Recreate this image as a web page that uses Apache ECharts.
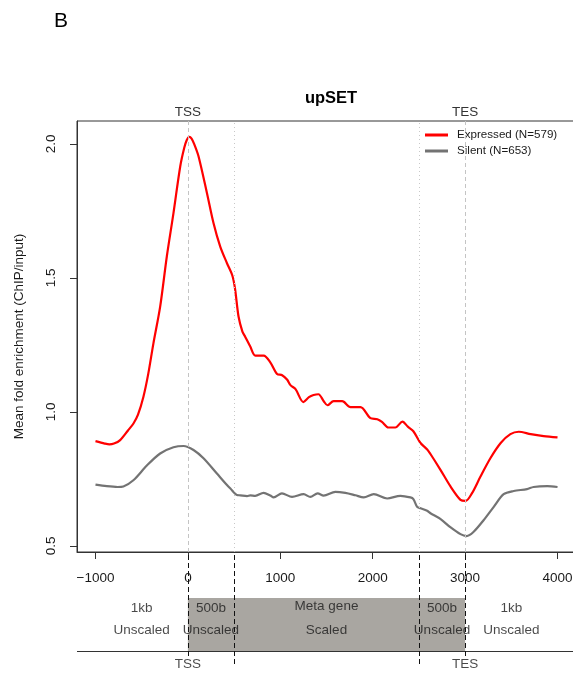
<!DOCTYPE html>
<html>
<head>
<meta charset="utf-8">
<script src="https://cdn.jsdelivr.net/npm/echarts@6/dist/echarts.min.js"></script>
<style>
  html, body { margin: 0; padding: 0; background: #fff; }
  #chart { width: 573px; height: 677px; }
</style>
</head>
<body>
<div id="chart"></div>
<script>
// Metagene profile of upSET enrichment: position relative to TSS (bp) vs mean fold enrichment
const expressedPos = [-1000, -900, -850, -800, -733, -650, -589, -540, -481, -430, -373, -300, -228, -156, -83, -40, -12, 14, 40, 70, 115, 206, 277, 350, 423, 480, 510, 548, 590, 621, 675, 730, 820, 890, 965, 1020, 1075, 1110, 1165, 1250, 1310, 1360, 1413, 1470, 1510, 1577, 1670, 1760, 1868, 1975, 2050, 2100, 2170, 2245, 2322, 2380, 2440, 2515, 2590, 2625, 2735, 2840, 2950, 3005, 3075, 3165, 3275, 3385, 3490, 3580, 3710, 3850, 4000];
const expressedVal = [0.891, 0.882, 0.879, 0.882, 0.895, 0.93, 0.957, 0.99, 1.057, 1.14, 1.256, 1.393, 1.58, 1.742, 1.916, 1.985, 2.015, 2.026, 2.02, 1.998, 1.954, 1.817, 1.705, 1.617, 1.555, 1.51, 1.46, 1.356, 1.30, 1.28, 1.244, 1.21, 1.21, 1.186, 1.142, 1.137, 1.12, 1.10, 1.085, 1.037, 1.055, 1.063, 1.066, 1.04, 1.025, 1.04, 1.04, 1.018, 1.018, 0.977, 0.973, 0.963, 0.942, 0.942, 0.964, 0.945, 0.928, 0.885, 0.86, 0.843, 0.783, 0.723, 0.672, 0.668, 0.697, 0.758, 0.828, 0.884, 0.917, 0.926, 0.917, 0.91, 0.905];

const silentPos = [-1000, -878, -760, -698, -590, -444, -300, -156, -47, 61, 169, 314, 423, 460, 531, 567, 640, 675, 729, 819, 892, 928, 1018, 1127, 1253, 1325, 1404, 1469, 1596, 1704, 1813, 1903, 2011, 2156, 2300, 2408, 2440, 2481, 2517, 2589, 2625, 2735, 2840, 2950, 3015, 3090, 3200, 3310, 3417, 3525, 3670, 3740, 3890, 4000];
const silentVal = [0.729, 0.723, 0.72, 0.722, 0.745, 0.80, 0.845, 0.868, 0.873, 0.858, 0.827, 0.77, 0.727, 0.714, 0.69, 0.689, 0.686, 0.689, 0.687, 0.698, 0.688, 0.681, 0.696, 0.683, 0.693, 0.683, 0.696, 0.688, 0.702, 0.698, 0.689, 0.681, 0.693, 0.677, 0.687, 0.681, 0.675, 0.646, 0.641, 0.631, 0.622, 0.60, 0.57, 0.544, 0.537, 0.552, 0.596, 0.646, 0.693, 0.705, 0.712, 0.72, 0.723, 0.72];

const seriesNames = ['Expressed (N=579)', 'Silent (N=653)'];

// Axis ticks and labels
const xTicks = [-1000, 0, 1000, 2000, 3000, 4000];
const yTicks = [0.5, 1.0, 1.5, 2.0];
const landmarkPos = [0, 3000];
const landmarkNames = ['TSS', 'TES'];

// Gene-model track below the profile
const scaledStart = 0, scaledEnd = 3000;
const boundaryPos = [0, 500, 2500, 3000];
const regionCenters = [-500, 250, 1500, 2750, 3500];
const regionSize = ['1kb', '500b', 'Meta gene', '500b', '1kb'];
const regionMode = ['Unscaled', 'Unscaled', 'Scaled', 'Unscaled', 'Unscaled'];

const X_MIN = -1200, X_MAX = 4200;
const Y_MIN = 0.4774, Y_MAX = 2.0856;
const FONT = "'Liberation Sans', Arial, sans-serif";
const TXT = '#1a1a1a';
const FRAME = '#333';

const zip = (xs, ys) => xs.map((x, i) => [x, ys[i]]);
const fmtX = v => (v < 0 ? '\u2212' + Math.abs(v) : String(v));

// Track rows (pixel-like units from top of the track grid)
const TRACK_H = 112;
const ROW_SIZE = 55, ROW_MODE = 77, ROW_LANDMARK = 111;
const BOX_TOP = 45, BOX_BOTTOM = 98;

const chart = echarts.init(document.getElementById('chart'), null, { renderer: 'canvas' });

const textSeries = (rowY, labels, extra) => ({
  type: 'scatter',
  xAxisIndex: 2, yAxisIndex: 1,
  symbolSize: 0,
  silent: true,
  z: 5,
  data: labels.map((t, i) => ({ value: [regionCenters[i], rowY + (extra ? extra[i] : 0)], name: t })),
  label: {
    show: true, position: 'inside', formatter: '{b}',
    color: TXT, fontSize: 13.5, fontFamily: FONT
  }
});

const option = {
  animation: false,
  backgroundColor: '#fff',
  title: [
    { text: 'upSET', left: 326, top: 85, textAlign: 'center',
      textStyle: { fontSize: 16.5, fontWeight: 'bold', color: '#000', fontFamily: FONT } },
    { text: 'B', left: 49, top: 6,
      textStyle: { fontSize: 21, fontWeight: 'normal', color: '#000', fontFamily: FONT } }
  ],
  legend: {
    orient: 'vertical',
    left: 425, top: 128,
    padding: 0,
    itemWidth: 23, itemHeight: 3,
    itemGap: 2,
    icon: 'rect',
    data: seriesNames,
    textStyle: { fontSize: 11.6, color: TXT, fontFamily: FONT, padding: [0, 0, 0, 4], lineHeight: 14 }
  },
  grid: [
    { left: 77, top: 121, width: 499, height: 431, outerBoundsMode: 'none',
      show: true, borderColor: FRAME, borderWidth: 1, backgroundColor: 'transparent' },
    { left: 77, top: 553, width: 499, height: TRACK_H, outerBoundsMode: 'none', show: false }
  ],
  xAxis: [
    {
      type: 'value', gridIndex: 0, position: 'bottom', min: X_MIN, max: X_MAX,
      splitLine: { show: false },
      axisLine: { show: true, onZero: false, lineStyle: { color: FRAME, width: 1 } },
      axisTick: { show: true, inside: false, length: 7, customValues: xTicks, lineStyle: { color: FRAME } },
      axisLabel: { show: true, customValues: xTicks, formatter: fmtX, margin: 19,
        fontSize: 13.5, color: TXT, fontFamily: FONT }
    },
    {
      type: 'value', gridIndex: 0, position: 'top', min: X_MIN, max: X_MAX,
      splitLine: { show: false },
      axisLine: { show: false, onZero: false },
      axisTick: { show: false },
      axisLabel: { show: true, customValues: landmarkPos, margin: 2,
        formatter: v => landmarkNames[landmarkPos.indexOf(v)] || '',
        fontSize: 13.5, color: '#333', fontFamily: FONT }
    },
    {
      type: 'value', gridIndex: 1, min: X_MIN, max: X_MAX, show: false
    }
  ],
  yAxis: [
    {
      type: 'value', gridIndex: 0, position: 'left', min: Y_MIN, max: Y_MAX,
      name: 'Mean fold enrichment (ChIP/input)',
      nameLocation: 'middle', nameGap: 51, nameRotate: 90,
      nameTextStyle: { fontSize: 13.5, color: TXT, fontFamily: FONT },
      splitLine: { show: false },
      axisLine: { show: true, onZero: false, lineStyle: { color: FRAME, width: 1 } },
      axisTick: { show: true, inside: false, length: 7, customValues: yTicks, lineStyle: { color: FRAME } },
      axisLabel: { show: true, customValues: yTicks, rotate: 90, margin: 19,
        formatter: v => v.toFixed(1), fontSize: 13.5, color: TXT, fontFamily: FONT }
    },
    {
      type: 'value', gridIndex: 1, min: 0, max: TRACK_H, inverse: true, show: false
    }
  ],
  series: [
    {
      // guide lines at the TSS/TES and at the scaled-region borders
      type: 'line', xAxisIndex: 0, yAxisIndex: 0, data: [], z: 1, silent: true,
      markLine: {
        symbol: 'none', silent: true, label: { show: false },
        data: boundaryPos.map(p => ({
          xAxis: p,
          lineStyle: (p === scaledStart || p === scaledEnd)
            ? { color: '#c4c4c4', type: [4, 3], width: 1 }
            : { color: '#c8c8c8', type: [1, 3], width: 1 }
        }))
      }
    },
    {
      name: seriesNames[0], type: 'line', xAxisIndex: 0, yAxisIndex: 0,
      data: zip(expressedPos, expressedVal), smooth: 0.3, showSymbol: false, z: 3,
      color: '#ff0000', lineStyle: { color: '#ff0000', width: 2.2 }
    },
    {
      name: seriesNames[1], type: 'line', xAxisIndex: 0, yAxisIndex: 0,
      data: zip(silentPos, silentVal), smooth: 0.3, showSymbol: false, z: 3,
      color: '#737373', lineStyle: { color: '#737373', width: 2.2 }
    },
    {
      // gene-model track: shaded gene body, baseline and region borders
      type: 'line', xAxisIndex: 2, yAxisIndex: 1, data: [], z: 1, silent: true,
      markArea: {
        silent: true,
        itemStyle: { color: '#a9a6a1' },
        data: [[{ coord: [scaledStart, BOX_TOP] }, { coord: [scaledEnd, BOX_BOTTOM] }]]
      },
      markLine: {
        symbol: 'none', silent: true, label: { show: false },
        data: [
          [{ coord: [X_MIN, BOX_BOTTOM], lineStyle: { color: FRAME, width: 1.2, type: 'solid' } },
           { coord: [X_MAX, BOX_BOTTOM] }],
          ...boundaryPos.map(p => [
            { coord: [p, 2], lineStyle: { color: '#111', width: 1, type: [5, 3] } },
            { coord: [p, (p === scaledStart || p === scaledEnd) ? 103 : TRACK_H] }
          ])
        ]
      }
    },
    textSeries(ROW_SIZE, regionSize, [0, 0, -1.5, 0, 0]),
    textSeries(ROW_MODE, regionMode),
    {
      type: 'scatter', xAxisIndex: 2, yAxisIndex: 1, symbolSize: 0, silent: true, z: 5,
      data: landmarkPos.map((p, i) => ({ value: [p, ROW_LANDMARK], name: landmarkNames[i] })),
      label: { show: true, position: 'inside', formatter: '{b}', color: TXT, fontSize: 13.5, fontFamily: FONT }
    }
  ]
};

chart.setOption(option);
</script>
</body>
</html>
